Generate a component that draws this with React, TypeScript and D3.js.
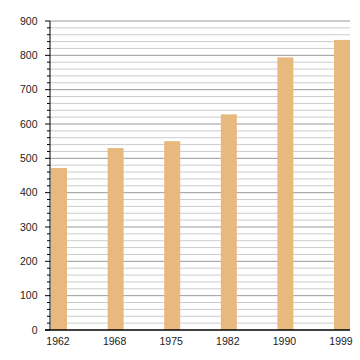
import React from "react";
import * as d3 from "d3";

const years = ["1962", "1968", "1975", "1982", "1990", "1999"];
const values = [472, 530, 550, 628, 794, 845];
const yMajorTicks = [0, 100, 200, 300, 400, 500, 600, 700, 800, 900];

export default function App() {
  const W = 360, H = 360;
  const left = 50, right = 350, top = 21, bottom = 330;
  const barW = 16;
  const y = d3.scaleLinear().domain([0, 900]).range([bottom, top]);
  const x = d3.scalePoint<string>().domain(years).range([left + 1 + barW / 2, right - barW / 2]);
  const minor = d3.range(0, 901, 20).filter((v) => v % 100 !== 0);
  return (
    <svg width={W} height={H} style={{ position: "absolute", left: 0, top: 0 }}>
      <rect width={W} height={H} fill="#fff" />
      {minor.map((v) => (
        <line key={"m" + v} x1={left} x2={right} y1={y(v)} y2={y(v)} stroke="#cccccc" strokeWidth={1} />
      ))}
      {yMajorTicks.filter((v) => v > 0).map((v) => (
        <line key={"M" + v} x1={left} x2={right} y1={y(v)} y2={y(v)} stroke="#999999" strokeWidth={1} />
      ))}
      {years.map((yr, i) => (
        <rect key={yr} x={(x(yr) as number) - barW / 2} y={y(values[i])} width={barW} height={bottom - y(values[i])} fill="#e8b97f" />
      ))}
      {minor.map((v) => (
        <line key={"mt" + v} x1={left - 3} x2={left} y1={y(v)} y2={y(v)} stroke="#000" strokeWidth={1} />
      ))}
      {yMajorTicks.map((v) => (
        <g key={"t" + v}>
          <line x1={left - 5} x2={left} y1={y(v)} y2={y(v)} stroke="#000" strokeWidth={1} />
          <text x={37.5} y={y(v)} dy="0.35em" textAnchor="end" fontFamily="Liberation Sans, Arial, sans-serif" fontSize={10.5} fill="#222">
            {v}
          </text>
        </g>
      ))}
      <line x1={left} x2={left} y1={top} y2={bottom} stroke="#000" strokeWidth={1} />
      <line x1={left - 5} x2={right} y1={bottom} y2={bottom} stroke="#000" strokeWidth={1.5} />
      {years.map((yr) => (
        <text key={"x" + yr} x={(x(yr) as number) - 1} y={345} textAnchor="middle" fontFamily="Liberation Sans, Arial, sans-serif" fontSize={10.5} fill="#222">
          {yr}
        </text>
      ))}
    </svg>
  );
}
